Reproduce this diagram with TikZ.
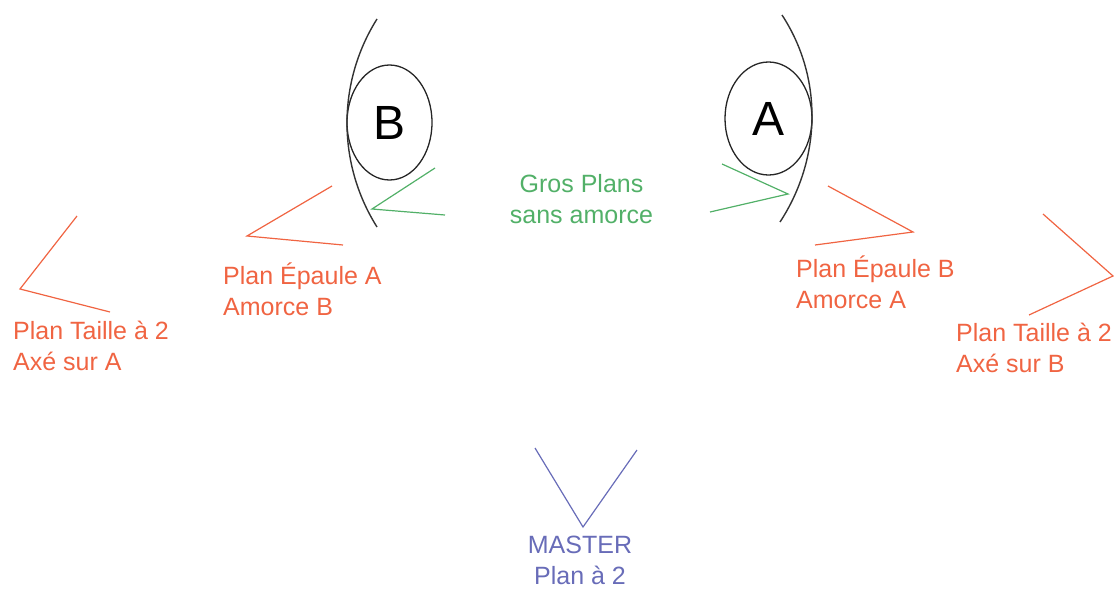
\documentclass[tikz,border=0pt]{standalone}
\usepackage{fontspec}
\setmainfont{Liberation Sans}
\usetikzlibrary{shapes.geometric}
\definecolor{camorange}{RGB}{240,100,66}
\definecolor{camgreen}{RGB}{82,176,104}
\definecolor{camblue}{RGB}{104,108,184}
\begin{document}
\begin{tikzpicture}[x=1pt,y=-1pt,
  person/.style={draw=black!85,line width=1.3pt,ellipse,inner sep=0pt,
    font=\fontsize{48}{48}\selectfont},
  axis/.style={draw=black!80,line width=1.4pt},
  camo/.style={draw=camorange,line width=1.2pt},
  camg/.style={draw=camgreen,line width=1.2pt},
  camb/.style={draw=camblue,line width=1.2pt},
  lbl/.style={inner sep=0pt,align=left,font=\fontsize{25}{30.5}\selectfont},
  lblc/.style={inner sep=0pt,align=center,font=\fontsize{25}{30.5}\selectfont}]
\useasboundingbox (0,0) rectangle (1117,589);

% persons
\node[person,minimum width=85pt,minimum height=115pt] (B) at (389.5,122.5) {B};
\node[person,minimum width=87pt,minimum height=113pt] (A) at (768.5,118.5) {A};

% arcs
\coordinate (bt) at (377,19); \coordinate (bb) at (377,227);
\coordinate (at) at (782,15); \coordinate (ab) at (780,222);
\draw[axis] (bt) .. controls (337,82.5) and (337,163.5) .. (bb);
\draw[axis] (at) .. controls (823.3,78.1) and (821.3,158.9) .. (ab);

% green close-ups
\coordinate (g1a) at (435,168); \coordinate (g1v) at (372,209); \coordinate (g1b) at (445,215);
\draw[camg] (g1a) -- (g1v) -- (g1b);
\coordinate (g2a) at (722,164); \coordinate (g2v) at (788,194); \coordinate (g2b) at (710,212);
\draw[camg] (g2a) -- (g2v) -- (g2b);
\node[lblc,text=camgreen,anchor=base] (gros) at (581.5,223) {Gros Plans\\sans amorce};

% Plan Taille A
\coordinate (ta1) at (77,216); \coordinate (tav) at (20,289); \coordinate (ta2) at (110,312);
\draw[camo] (ta1) -- (tav) -- (ta2);
\node[lbl,text=camorange,anchor=base west] (taillea) at (13,370) {Plan Taille à 2\\Axé sur A};

% Plan Epaule A
\coordinate (ea1) at (332,186); \coordinate (eav) at (247,236); \coordinate (ea2) at (343,245);
\draw[camo] (ea1) -- (eav) -- (ea2);
\node[lbl,text=camorange,anchor=base west] (epaulea) at (223,315) {Plan Épaule A\\Amorce B};

% Plan Epaule B
\coordinate (eb1) at (828,186); \coordinate (ebv) at (913,232); \coordinate (eb2) at (815,245);
\draw[camo] (eb1) -- (ebv) -- (eb2);
\node[lbl,text=camorange,anchor=base west] (epauleb) at (796,308) {Plan Épaule B\\Amorce A};

% Plan Taille B
\coordinate (tb1) at (1043,214); \coordinate (tbv) at (1113,276); \coordinate (tb2) at (1029,315);
\draw[camo] (tb1) -- (tbv) -- (tb2);
\node[lbl,text=camorange,anchor=base west] (tailleb) at (956,372) {Plan Taille à 2\\Axé sur B};

% Master
\coordinate (m1) at (535,448); \coordinate (mv) at (583,527); \coordinate (m2) at (637,450);
\draw[camb] (m1) -- (mv) -- (m2);
\node[lblc,text=camblue,anchor=base] (master) at (580,584) {MASTER\\Plan à 2};
\end{tikzpicture}
\end{document}
